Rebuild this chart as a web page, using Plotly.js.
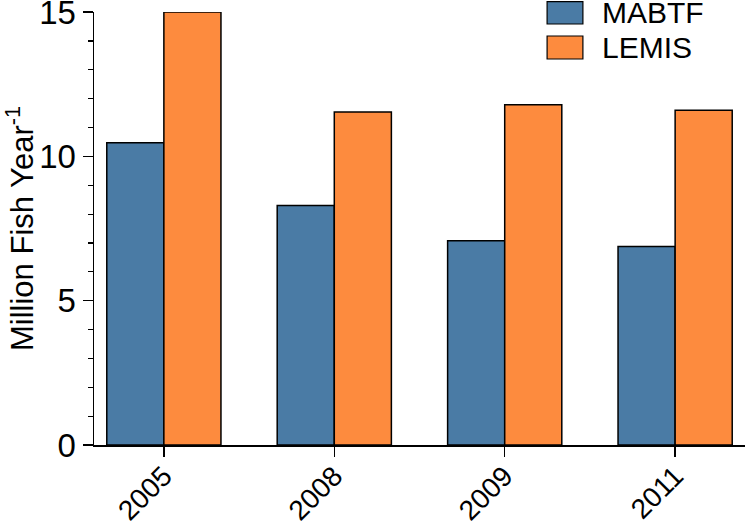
<!DOCTYPE html>
<html>
<head>
<meta charset="utf-8">
<script src="https://cdn.plot.ly/plotly-3.0.1.min.js"></script>
<style>
  html, body { margin: 0; padding: 0; background: #fff; }
  #chart { width: 747px; height: 527px; }
</style>
</head>
<body>
<div id="chart"></div>
<script>
// ---- data ----
const years = ["2005", "2008", "2009", "2011"];
const seriesNames = ["MABTF", "LEMIS"];
const mabtf = [10.47, 8.30, 7.08, 6.88];
const lemis = [15.0, 11.54, 11.79, 11.60];
const yTickVals = [0, 5, 10, 15];

const colBlue = "#4a7ba5";
const colOrange = "#fd8b3e";
const FONT = "Liberation Sans, Arial, Helvetica, sans-serif";

const traces = [
  {
    type: "bar", name: seriesNames[0], x: years, y: mabtf,
    marker: { color: colBlue, line: { color: "#000", width: 1.5 } },
    hoverinfo: "skip"
  },
  {
    type: "bar", name: seriesNames[1], x: years, y: lemis,
    marker: { color: colOrange, line: { color: "#000", width: 1.5 } },
    hoverinfo: "skip"
  }
];

// legend drawn as shapes + annotations (large swatches like the reference)
const legendColors = [colBlue, colOrange];
const swatchY = [[0.9723, 1.0238], [0.8915, 0.9446]];
const textY = [0.9977, 0.9169];
const shapes = seriesNames.map((n, i) => ({
  type: "rect", xref: "paper", yref: "paper",
  x0: 0.696, x1: 0.751, y0: swatchY[i][0], y1: swatchY[i][1],
  fillcolor: legendColors[i], line: { color: "#000", width: 1.2 }
}));
const annotations = seriesNames.map((n, i) => ({
  xref: "paper", yref: "paper", x: 0.778, y: textY[i],
  xanchor: "left", yanchor: "middle", text: n, showarrow: false,
  font: { family: FONT, size: 30, color: "#000" }
}));

const layout = {
  width: 747, height: 527,
  margin: { l: 94, r: 2, t: 12, b: 82, pad: 0 },
  paper_bgcolor: "#fff", plot_bgcolor: "#fff",
  showlegend: false,
  barmode: "group", bargap: 0.33, bargroupgap: 0,
  font: { family: FONT, color: "#000" },
  xaxis: {
    type: "category", range: [-0.41, 3.41],
    showline: true, linecolor: "#000", linewidth: 1.5,
    ticks: "outside", ticklen: 10, tickwidth: 1.5, tickcolor: "#000",
    tickangle: -45, ticklabelstandoff: -8,
    tickfont: { family: FONT, size: 28, color: "#000" },
    showgrid: false, zeroline: false, fixedrange: true
  },
  yaxis: {
    range: [0, 15.002], tickvals: yTickVals, ticktext: yTickVals.map(String),
    showline: true, linecolor: "#000", linewidth: 1.5,
    ticks: "outside", ticklen: 10, tickwidth: 1.5, tickcolor: "#000",
    ticklabeloverflow: "allow",
    minor: { dtick: 1, ticks: "outside", ticklen: 5, tickwidth: 1.2, tickcolor: "#000", showgrid: false },
    tickfont: { family: FONT, size: 33, color: "#000" },
    showgrid: false, zeroline: false, fixedrange: true,
    title: { text: "Million Fish Year<sup>-1</sup>", font: { family: FONT, size: 31, color: "#000" } }
  },
  shapes: shapes,
  annotations: annotations
};

Plotly.newPlot("chart", traces, layout, { displayModeBar: false, staticPlot: true });
</script>
</body>
</html>
